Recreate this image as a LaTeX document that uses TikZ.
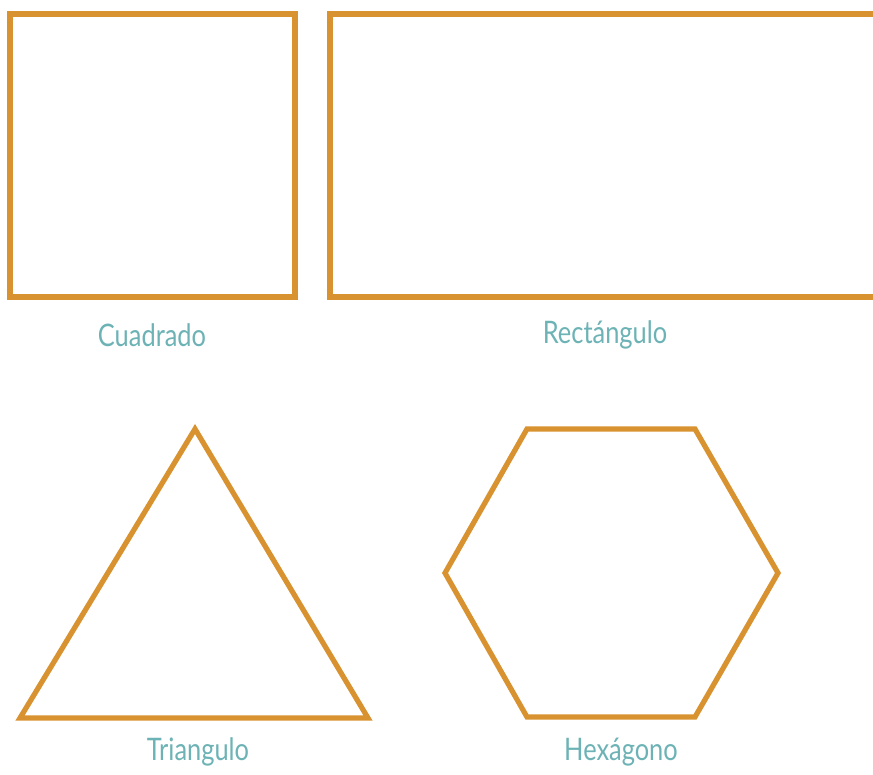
\documentclass[tikz,border=0pt]{standalone}
\usepackage{fontspec}
\setmainfont{Lato}
\definecolor{shapeorange}{HTML}{D8922F}
\definecolor{labelteal}{HTML}{6DB3B6}
\tikzset{
  shapeline/.style={draw=shapeorange, line width=5.2pt, line join=miter},
  shapelabel/.style={text=labelteal, font=\fontsize{31}{34}\selectfont, inner sep=0pt, anchor=center, xscale=0.82}
}
\begin{document}
\begin{tikzpicture}[x=1pt,y=-1pt]
\clip (0,0) rectangle (873,775);
\fill[white] (0,0) rectangle (873,775);
% square
\draw[shapeline] (10,14) rectangle (295,297);
% rectangle (runs off right edge)
\draw[shapeline] (330,14) rectangle (890,297);
% triangle
\coordinate (tA) at (195,429);
\coordinate (tB) at (368,718);
\coordinate (tC) at (20,718);
\draw[shapeline] (tA) -- (tB) -- (tC) -- cycle;
% hexagon
\coordinate (h1) at (527,429);
\coordinate (h2) at (695,429);
\coordinate (h3) at (778,573);
\coordinate (h4) at (695,717);
\coordinate (h5) at (527,717);
\coordinate (h6) at (445,573);
\draw[shapeline] (h1) -- (h2) -- (h3) -- (h4) -- (h5) -- (h6) -- cycle;
% labels
\node[shapelabel] (lcuad) at (152,335) {Cuadrado};
\node[shapelabel] (lrect) at (605,335) {Rectángulo};
\node[shapelabel] (ltri) at (198,752) {Triangulo};
\node[shapelabel] (lhex) at (621,752) {Hexágono};
\end{tikzpicture}
\end{document}
